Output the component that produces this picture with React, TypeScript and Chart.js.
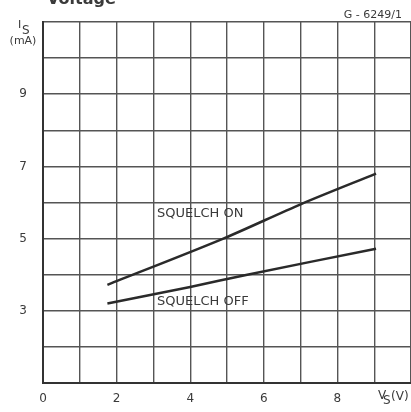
import React, { useEffect, useRef } from "react";
import { Chart, registerables } from "chart.js";

Chart.register(...registerables);

const squelchOnVs = [1.75, 4.9, 7.0, 9.05];
const squelchOnIs = [3.72, 5.0, 5.95, 6.8];
const squelchOffVs = [1.75, 4.0, 5.55, 9.05];
const squelchOffIs = [3.2, 3.66, 4.0, 4.72];
const xTickLabels = [0, 2, 4, 6, 8];
const yTickLabels = [3, 5, 7, 9];
const curveLabels = ["SQUELCH ON", "SQUELCH OFF"];
const curveLabelX = [3.1, 3.1];
const curveLabelY = [5.7, 3.25];

const INK = "#3a3a3a";
const FONT = "'DejaVu Sans', sans-serif";

const textPlugin = {
  id: "texts",
  afterDraw(chart: any) {
    const ctx = chart.ctx;
    const xs = chart.scales.x;
    const ys = chart.scales.y;
    ctx.save();
    ctx.fillStyle = INK;
    ctx.font = `12px ${FONT}`;
    ctx.textAlign = "center";
    ctx.textBaseline = "middle";
    xTickLabels.forEach((v) => {
      ctx.fillText(String(v), xs.getPixelForValue(v), 399);
    });
    yTickLabels.forEach((v) => {
      ctx.fillText(String(v), 23, ys.getPixelForValue(v));
    });
    // axis titles
    ctx.font = `11px ${FONT}`;
    ctx.textAlign = "left";
    ctx.fillText("I", 18, 25);
    ctx.font = `12px ${FONT}`;
    ctx.fillText("S", 22, 31);
    ctx.font = `11px ${FONT}`;
    ctx.textAlign = "center";
    ctx.fillText("(mA)", 23, 41);
    ctx.textAlign = "left";
    ctx.font = `12px ${FONT}`;
    ctx.fillText("V", 378, 396);
    ctx.font = `12px ${FONT}`;
    ctx.fillText("S", 383, 401);
    ctx.font = `12px ${FONT}`;
    ctx.fillText("(V)", 391, 397);
    // code
    ctx.font = `11px ${FONT}`;
    ctx.textAlign = "right";
    ctx.fillText("G - 6249/1", 402, 15);
    // title (cut off at top)
    ctx.font = `bold 16px ${FONT}`;
    ctx.textAlign = "left";
    ctx.textBaseline = "alphabetic";
    ctx.fillText("Voltage", 47, 4);
    // curve labels
    ctx.font = `13px ${FONT}`;
    ctx.textBaseline = "middle";
    curveLabels.forEach((t, i) => {
      ctx.fillText(t, xs.getPixelForValue(curveLabelX[i]), ys.getPixelForValue(curveLabelY[i]));
    });
    ctx.restore();
  },
};

export default function App() {
  const ref = useRef<HTMLCanvasElement>(null);
  useEffect(() => {
    const chart = new Chart(ref.current!, {
      type: "line",
      data: {
        datasets: [
          {
            label: curveLabels[0],
            data: squelchOnVs.map((x, i) => ({ x, y: squelchOnIs[i] })),
            borderColor: "#2a2a2a",
            borderWidth: 2.5,
            pointRadius: 0,
            tension: 0.3,
          },
          {
            label: curveLabels[1],
            data: squelchOffVs.map((x, i) => ({ x, y: squelchOffIs[i] })),
            borderColor: "#2a2a2a",
            borderWidth: 2.5,
            pointRadius: 0,
            tension: 0.3,
          },
        ],
      },
      options: {
        animation: false,
        responsive: false,
        maintainAspectRatio: false,
        layout: { padding: { top: 22, right: 0, left: 0, bottom: 0 } },
        plugins: { legend: { display: false }, tooltip: { enabled: false } },
        scales: {
          x: {
            type: "linear",
            min: 0,
            max: 10,
            ticks: { stepSize: 1, display: false },
            grid: { color: "#555", lineWidth: 1.4, drawTicks: false },
            border: { color: "#333", width: 2 },
            afterFit: (s: any) => {
              s.height = 29;
            },
          },
          y: {
            type: "linear",
            min: 1,
            max: 11,
            ticks: { stepSize: 1, display: false },
            grid: { color: "#555", lineWidth: 1.4, drawTicks: false },
            border: { color: "#333", width: 2 },
            afterFit: (s: any) => {
              s.width = 43;
            },
          },
        },
      },
      plugins: [textPlugin],
    });
    return () => chart.destroy();
  }, []);
  return (
    <div style={{ position: "absolute", left: 0, top: 0, width: 411, height: 412, background: "#fff" }}>
      <canvas ref={ref} width={411} height={412} style={{ width: 411, height: 412 }} />
    </div>
  );
}
